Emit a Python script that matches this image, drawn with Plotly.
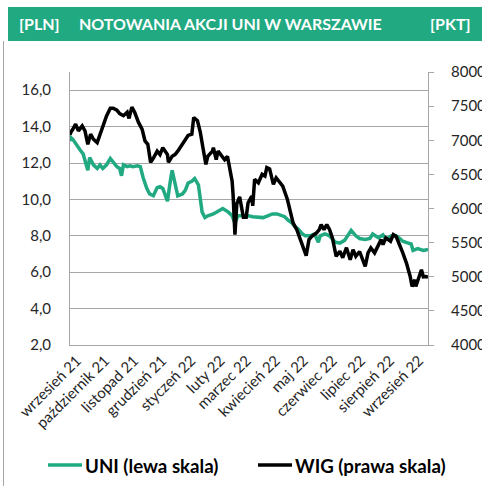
import plotly.graph_objects as go

# ---- data ----
uni_dates = [
    "2021-08-30", "2021-08-31", "2021-09-02", "2021-09-06", "2021-09-10", "2021-09-13",
    "2021-09-16", "2021-09-18", "2021-09-20", "2021-09-24", "2021-09-28", "2021-10-01",
    "2021-10-04", "2021-10-08", "2021-10-12", "2021-10-15", "2021-10-19", "2021-10-22",
    "2021-10-24", "2021-10-26", "2021-10-30", "2021-11-02", "2021-11-05", "2021-11-10",
    "2021-11-13", "2021-11-16", "2021-11-20", "2021-11-23", "2021-11-27", "2021-12-01",
    "2021-12-04", "2021-12-07", "2021-12-12", "2021-12-15", "2021-12-17", "2021-12-20",
    "2021-12-23", "2021-12-28", "2021-12-31", "2022-01-03", "2022-01-07", "2022-01-10",
    "2022-01-14", "2022-01-18", "2022-01-21", "2022-01-24", "2022-01-30", "2022-02-04",
    "2022-02-09", "2022-02-15", "2022-02-19", "2022-02-22", "2022-02-25", "2022-03-03",
    "2022-03-08", "2022-03-13", "2022-03-19", "2022-03-24", "2022-03-29", "2022-04-03",
    "2022-04-08", "2022-04-13", "2022-04-16", "2022-04-20", "2022-04-24", "2022-04-27",
    "2022-04-30", "2022-05-05", "2022-05-08", "2022-05-13", "2022-05-18", "2022-05-22",
    "2022-05-24", "2022-05-29", "2022-06-03", "2022-06-09", "2022-06-14", "2022-06-19",
    "2022-06-23", "2022-06-26", "2022-07-01", "2022-07-05", "2022-07-11", "2022-07-16",
    "2022-07-19", "2022-07-25", "2022-07-30", "2022-08-02", "2022-08-08", "2022-08-13",
    "2022-08-17", "2022-08-20", "2022-08-26", "2022-08-29", "2022-08-31", "2022-09-05",
    "2022-09-11", "2022-09-16",
]
uni_values = [
    13.2, 13.4, 13.3, 12.96, 12.7, 12.5,
    12.0, 11.6, 12.3, 11.9, 11.7, 11.9,
    11.7, 11.9, 12.25, 12.05, 11.8, 11.7,
    11.3, 11.9, 11.8, 11.85, 11.8, 11.85,
    11.8, 11.2, 10.6, 10.3, 10.2, 10.65,
    10.7, 10.6, 9.9, 11.0, 11.6, 10.9,
    10.2, 10.3, 10.5, 10.9, 11.0, 11.15,
    10.8, 9.3, 9.0, 9.1, 9.2, 9.35,
    9.5, 9.3, 9.1, 8.7, 9.1, 9.1,
    9.1, 9.05, 9.0, 9.0, 9.1, 9.2,
    9.2, 9.1, 9.05, 8.85, 8.7, 8.5,
    8.4, 8.1, 8.0, 8.0, 8.1, 7.65,
    8.0, 8.1, 8.0, 7.65, 7.6, 7.75,
    8.1, 8.3, 8.0, 7.85, 7.8, 7.85,
    8.1, 7.9, 8.05, 7.8, 8.0, 8.0,
    7.85, 7.7, 7.6, 7.55, 7.2, 7.3,
    7.2, 7.25,
]

wig_dates = [
    "2021-08-30", "2021-08-31", "2021-09-02", "2021-09-05", "2021-09-08", "2021-09-12",
    "2021-09-15", "2021-09-18", "2021-09-21", "2021-09-24", "2021-09-28", "2021-10-01",
    "2021-10-04", "2021-10-08", "2021-10-12", "2021-10-15", "2021-10-19", "2021-10-22",
    "2021-10-26", "2021-10-30", "2021-11-01", "2021-11-04", "2021-11-07", "2021-11-11",
    "2021-11-15", "2021-11-18", "2021-11-21", "2021-11-24", "2021-11-27", "2021-12-01",
    "2021-12-04", "2021-12-07", "2021-12-12", "2021-12-13", "2021-12-17", "2021-12-20",
    "2021-12-23", "2021-12-28", "2021-12-31", "2022-01-03", "2022-01-07", "2022-01-09",
    "2022-01-13", "2022-01-16", "2022-01-19", "2022-01-22", "2022-01-24", "2022-01-29",
    "2022-01-30", "2022-02-02", "2022-02-04", "2022-02-08", "2022-02-11", "2022-02-14",
    "2022-02-17", "2022-02-19", "2022-02-20", "2022-02-22", "2022-02-24", "2022-02-27",
    "2022-03-03", "2022-03-06", "2022-03-08", "2022-03-12", "2022-03-13", "2022-03-15",
    "2022-03-19", "2022-03-23", "2022-03-26", "2022-03-28", "2022-03-31", "2022-04-04",
    "2022-04-07", "2022-04-11", "2022-04-14", "2022-04-19", "2022-04-22", "2022-04-25",
    "2022-04-29", "2022-05-02", "2022-05-06", "2022-05-09", "2022-05-12", "2022-05-15",
    "2022-05-20", "2022-05-23", "2022-05-25", "2022-05-28", "2022-05-31", "2022-06-03",
    "2022-06-06", "2022-06-09", "2022-06-10", "2022-06-14", "2022-06-17", "2022-06-21",
    "2022-06-25", "2022-06-28", "2022-07-01", "2022-07-05", "2022-07-11", "2022-07-14",
    "2022-07-17", "2022-07-21", "2022-07-25", "2022-07-28", "2022-07-30", "2022-08-02",
    "2022-08-07", "2022-08-10", "2022-08-13", "2022-08-17", "2022-08-20", "2022-08-24",
    "2022-08-28", "2022-08-30", "2022-09-02", "2022-09-03", "2022-09-06", "2022-09-09",
    "2022-09-11", "2022-09-14", "2022-09-16",
]
wig_values = [
    70800, 71200, 71600, 72350, 71370, 72100,
    71370, 69400, 70900, 70150, 69650, 70880,
    72100, 73570, 74700, 74700, 74400, 73900,
    73600, 74100, 73200, 74850, 74100, 72650,
    71600, 69900, 69400, 66760, 67400, 68400,
    67900, 68900, 67900, 66760, 67650, 67900,
    68400, 69400, 70150, 70700, 70900, 73330,
    72850, 71200, 68800, 66470, 67650, 68400,
    68900, 67150, 68400, 67650, 67150, 67650,
    65300, 64000, 62060, 56180, 60700, 61700,
    58700, 58700, 60840, 61800, 60400, 64260,
    63770, 65000, 64750, 66000, 65800, 63530,
    64500, 63770, 63280, 61320, 59370, 57900,
    56900, 55700, 54460, 53100, 55440, 55930,
    56420, 56900, 57650, 56900, 57650, 56900,
    55700, 53530, 52990, 53740, 52790, 54260,
    52500, 53970, 53000, 53700, 51500, 53500,
    54220, 53500, 54700, 55440, 54700, 55690,
    55200, 56180, 55900, 54700, 53530, 52010,
    50040, 48570, 49560, 48570, 49850, 51030,
    50000, 50040, 49900,
]

month_ticks = [
    "2021-09-01", "2021-10-01", "2021-11-01", "2021-12-01", "2022-01-01", "2022-02-01",
    "2022-03-01", "2022-04-01", "2022-05-01", "2022-06-01", "2022-07-01", "2022-08-01",
    "2022-09-01",
]
month_labels = [
    "wrzesień 21", "październik 21", "listopad 21", "grudzień 21", "styczeń 22", "luty 22",
    "marzec 22", "kwiecień 22", "maj 22", "czerwiec 22", "lipiec 22", "sierpień 22",
    "wrzesień 22",
]

title_text = "NOTOWANIA AKCJI UNI W WARSZAWIE"
left_unit = "[PLN]"
right_unit = "[PKT]"
uni_name = "UNI (lewa skala)"
wig_name = "WIG (prawa skala)"

GREEN = "#21A982"
GRID = "#A6A6A6"
TXT = "#262626"
FONT = "Lato"

W, H = 482, 486
L, R, T, B = 70, 54, 72, 141
PW, PH = W - L - R, H - T - B


def px(x):
    return (x - L) / PW


def py(y):
    return (H - B - y) / PH


fig = go.Figure()
fig.add_trace(go.Scatter(x=uni_dates, y=uni_values, mode="lines", name=uni_name,
                         line=dict(color=GREEN, width=3.5), yaxis="y", showlegend=False))
fig.add_trace(go.Scatter(x=wig_dates, y=wig_values, mode="lines", name=wig_name,
                         line=dict(color="#000000", width=3.5), yaxis="y2", showlegend=False))

fig.update_layout(
    width=W, height=H,
    margin=dict(l=L, r=R, t=T, b=B, autoexpand=False),
    paper_bgcolor="white", plot_bgcolor="white",
    separators=", ",
    font=dict(family=FONT, size=15, color=TXT),
    xaxis=dict(
        type="date", range=["2021-08-30", "2022-09-16"], automargin=False,
        tickvals=month_ticks, ticktext=month_labels, tickangle=-45,
        showgrid=False, showline=True, linecolor=GRID, linewidth=1,
        ticks="", tickfont=dict(size=15, color=TXT), zeroline=False,
        ticklabelshift=5,
    ),
    yaxis=dict(
        range=[2, 17], tick0=2, dtick=2, tickformat=".1f", automargin=False,
        showgrid=True, gridcolor=GRID, gridwidth=1,
        showline=True, linecolor=GRID, linewidth=1, ticks="",
        tickfont=dict(size=15, color=TXT), zeroline=False, ticklabelstandoff=15,
    ),
    yaxis2=dict(
        range=[40000, 80000], dtick=5000, tickformat="d", overlaying="y", side="right",
        automargin=False,
        showgrid=False, showline=True, linecolor=GRID, linewidth=1,
        ticks="outside", ticklen=5, tickcolor=GRID,
        tickfont=dict(size=15, color=TXT), zeroline=False, ticklabelstandoff=14,
    ),
    showlegend=False,
)

# header band
fig.add_shape(type="rect", xref="paper", yref="paper",
              x0=px(8), x1=px(482), y0=py(41), y1=py(7),
              fillcolor=GREEN, line=dict(width=0), layer="below")
# left frame border
fig.add_shape(type="line", xref="paper", yref="paper",
              x0=px(3.5), x1=px(3.5), y0=py(41), y1=py(490),
              line=dict(color=GRID, width=1))

for txt, xp, anchor in [(left_unit, 17, "left"), (title_text, 77, "left"), (right_unit, 473, "right")]:
    fig.add_annotation(text="<b>%s</b>" % txt, xref="paper", yref="paper",
                       x=px(xp), y=py(24), xanchor=anchor, yanchor="middle",
                       showarrow=False, font=dict(family=FONT, size=16, color="white"))

# legend
for x0, x1, col, name in [(48, 82, GREEN, uni_name), (258, 292, "#000000", wig_name)]:
    fig.add_shape(type="line", xref="paper", yref="paper",
                  x0=px(x0), x1=px(x1), y0=py(465), y1=py(465),
                  line=dict(color=col, width=3.5))
    fig.add_annotation(text="<b>%s</b>" % name, xref="paper", yref="paper",
                       x=px(x1 + 1), y=py(466), xanchor="left", yanchor="middle",
                       showarrow=False, font=dict(family=FONT, size=18.7, color="#000000"))

fig.write_html(
    "out.html",
    config={"displayModeBar": False},
    post_script="document.body.style.margin='0';document.body.style.overflow='hidden';",
)
